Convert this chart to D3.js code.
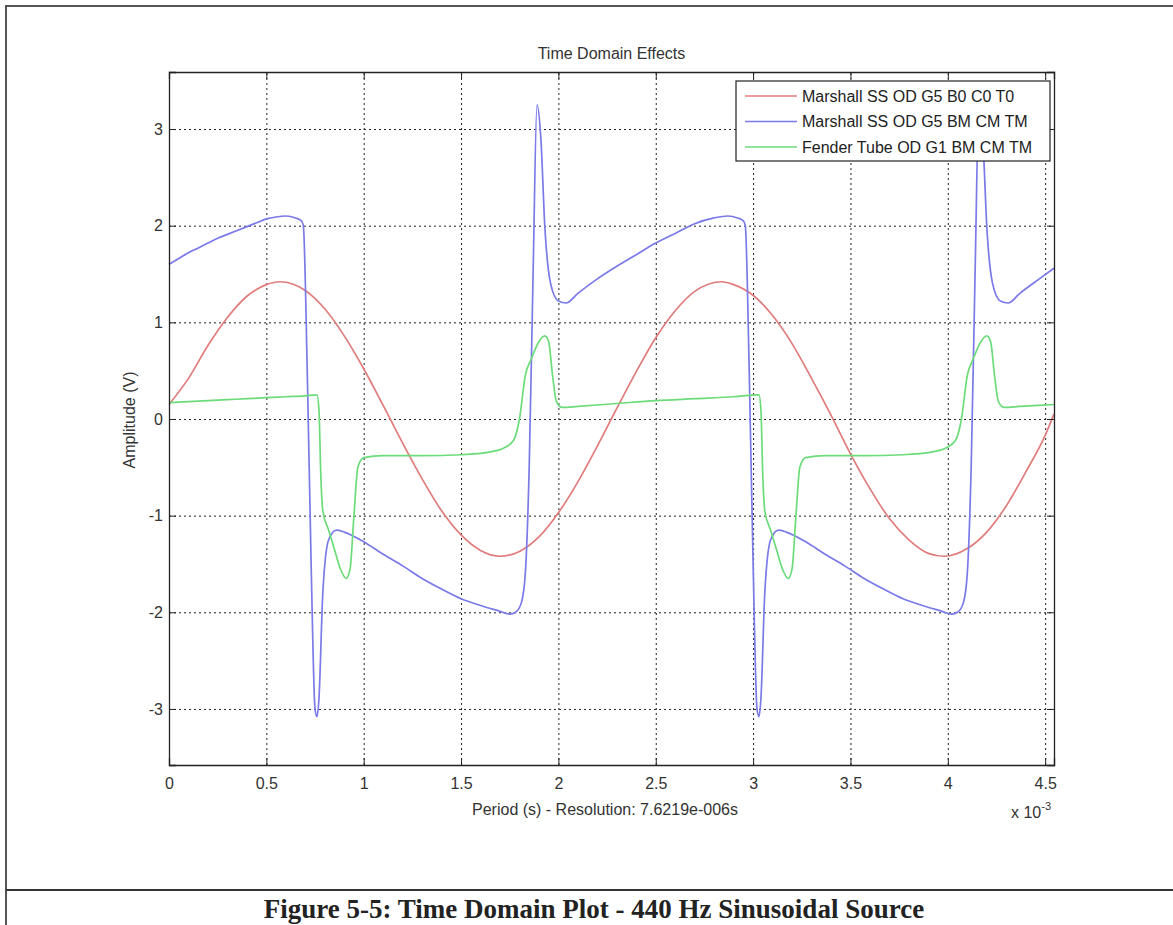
<!DOCTYPE html>
<html>
<head>
<meta charset="utf-8">
<script src="https://cdn.jsdelivr.net/npm/d3@7"></script>
<style>
  body { margin: 0; background: #fff; }
  svg { display: block; font-family: "Liberation Sans", Arial, sans-serif; }
</style>
</head>
<body>
<svg id="chart" width="1173" height="925"></svg>
<script>
// time in ms (axis shows x 10^-3 s)
const redT = [0,0.1,0.2,0.3,0.4,0.5,0.57,0.7,0.8,0.9,1.0,1.1,1.2,1.3,1.4,1.5,1.6,1.7,1.8,1.9,2.0,2.1,2.2,2.3,2.4,2.5,2.6,2.7,2.84,2.9,3.0,3.1,3.2,3.3,3.4,3.5,3.6,3.7,3.8,3.9,3.98,4.1,4.2,4.3,4.4,4.5,4.545];
const redV = [0.15,0.42,0.76,1.05,1.27,1.39,1.42,1.33,1.14,0.86,0.52,0.14,-0.25,-0.62,-0.95,-1.2,-1.36,-1.42,-1.37,-1.22,-0.97,-0.65,-0.28,0.11,0.49,0.84,1.12,1.32,1.42,1.39,1.28,1.07,0.78,0.42,0.04,-0.36,-0.72,-1.03,-1.25,-1.39,-1.42,-1.34,-1.17,-0.9,-0.55,-0.17,0.05];

const blueT = [0,0.05,0.1,0.15,0.2,0.25,0.3,0.35,0.4,0.45,0.5,0.55,0.6,0.65,0.68,0.69,0.71,0.73,0.75,0.76,0.77,0.79,0.82,0.86,0.9,1.0,1.1,1.2,1.3,1.4,1.5,1.6,1.7,1.75,1.78,1.81,1.83,1.85,1.87,1.89,1.91,1.93,1.96,2.0,2.04,2.1,2.2,2.3,2.4,2.5,2.6,2.7,2.8,2.87,2.92,2.95,2.96,2.98,3.0,3.02,3.03,3.04,3.06,3.09,3.13,3.17,3.27,3.37,3.47,3.57,3.67,3.77,3.87,3.97,4.02,4.05,4.08,4.1,4.12,4.14,4.16,4.18,4.2,4.23,4.27,4.31,4.37,4.47,4.545];
const blueV = [1.6,1.66,1.72,1.77,1.82,1.87,1.91,1.95,1.99,2.03,2.07,2.09,2.1,2.08,2.05,2.0,0.5,-1.5,-3.0,-3.08,-2.9,-1.8,-1.25,-1.15,-1.17,-1.27,-1.4,-1.52,-1.65,-1.76,-1.86,-1.93,-1.99,-2.02,-2.0,-1.9,-1.6,-0.5,1.5,3.25,2.9,2.0,1.4,1.22,1.2,1.3,1.45,1.58,1.7,1.82,1.92,2.02,2.08,2.1,2.08,2.05,2.0,0.5,-1.5,-3.0,-3.08,-2.9,-1.8,-1.25,-1.15,-1.17,-1.27,-1.4,-1.52,-1.65,-1.76,-1.86,-1.93,-1.99,-2.02,-2.0,-1.9,-1.6,-0.5,1.5,3.25,2.9,2.0,1.4,1.22,1.2,1.3,1.45,1.56];

const greenT = [0,0.1,0.2,0.3,0.4,0.5,0.6,0.7,0.76,0.77,0.78,0.79,0.82,0.85,0.88,0.91,0.93,0.95,0.97,1.0,1.1,1.3,1.5,1.65,1.72,1.77,1.8,1.83,1.86,1.9,1.93,1.95,1.97,1.99,2.02,2.1,2.3,2.5,2.7,2.9,3.03,3.04,3.05,3.06,3.09,3.12,3.15,3.18,3.2,3.22,3.24,3.27,3.37,3.57,3.77,3.92,3.99,4.04,4.07,4.1,4.13,4.17,4.2,4.22,4.24,4.26,4.29,4.37,4.545];
const greenV = [0.17,0.18,0.19,0.2,0.21,0.22,0.23,0.24,0.25,0.1,-0.6,-0.95,-1.15,-1.35,-1.55,-1.65,-1.55,-1.0,-0.5,-0.4,-0.38,-0.38,-0.37,-0.34,-0.3,-0.22,0.0,0.45,0.62,0.8,0.86,0.8,0.45,0.18,0.12,0.13,0.16,0.19,0.21,0.23,0.25,0.1,-0.6,-0.95,-1.15,-1.35,-1.55,-1.65,-1.55,-1.0,-0.5,-0.4,-0.38,-0.38,-0.37,-0.34,-0.3,-0.22,0.0,0.45,0.62,0.8,0.86,0.8,0.45,0.18,0.12,0.13,0.15];

const seriesNames = ['Marshall SS OD G5 B0 C0 T0', 'Marshall SS OD G5 BM CM TM', 'Fender Tube OD G1 BM CM TM'];
const seriesColors = ['#e07c7c', '#7a7ae8', '#6cdc7a'];
const xTicks = [0,0.5,1,1.5,2,2.5,3,3.5,4,4.5];
const yTicks = [-3,-2,-1,0,1,2,3];

const svg = d3.select('#chart');
const pL = 169, pR = 1054, pT = 72, pB = 765;
const w = pR - pL, h = pB - pT;

const x = d3.scaleLinear().domain([0, 4.5454]).range([pL, pR]);
const y = d3.scaleLinear().domain([-3.58, 3.59]).range([pB, pT]);

// page frame
svg.append('path').attr('d', 'M6,925 V6 H1173').attr('fill', 'none').attr('stroke', '#555').attr('stroke-width', 2);
svg.append('line').attr('x1', 6).attr('x2', 1173).attr('y1', 890).attr('y2', 890).attr('stroke', '#333').attr('stroke-width', 2);

// grid
const grid = svg.append('g').attr('class', 'grid');
grid.append('g').attr('transform', 'translate(0,' + pB + ')')
	.call(d3.axisBottom(x).tickValues(xTicks).tickSize(-h).tickFormat(''));
grid.append('g').attr('transform', 'translate(' + pL + ',0)')
	.call(d3.axisLeft(y).tickValues(yTicks).tickSize(-w).tickFormat(''));
grid.selectAll('.domain').remove();
grid.selectAll('line').attr('stroke', '#222').attr('stroke-dasharray', '2,3');

// curves
const mk = (ts, vs) => ts.map((t, i) => [t, vs[i]]);
const curves = [mk(redT, redV), mk(blueT, blueV), mk(greenT, greenV)];
const lineGen = d3.line().x(d => x(d[0])).y(d => y(d[1])).curve(d3.curveMonotoneX);
svg.append('g').selectAll('path')
	.data(curves)
	.enter()
	.append('path')
	.attr('d', lineGen)
	.attr('fill', 'none')
	.attr('stroke', (d, i) => seriesColors[i])
	.attr('stroke-width', 1.7);

// axes, ticks inside on all four sides
const fmt = d => String(d);
const ax = svg.append('g').attr('class', 'axes');
ax.append('g').attr('transform', 'translate(0,' + pB + ')')
	.call(d3.axisBottom(x).tickValues(xTicks).tickSize(-7).tickPadding(13).tickFormat(fmt));
ax.append('g').attr('transform', 'translate(0,' + pT + ')')
	.call(d3.axisTop(x).tickValues(xTicks).tickSize(-7).tickFormat(''));
ax.append('g').attr('transform', 'translate(' + pL + ',0)')
	.call(d3.axisLeft(y).tickValues(yTicks).tickSize(-7).tickPadding(6).tickFormat(fmt));
ax.append('g').attr('transform', 'translate(' + pR + ',0)')
	.call(d3.axisRight(y).tickValues(yTicks).tickSize(-7).tickFormat(''));
ax.selectAll('.domain').attr('stroke', '#222').attr('stroke-width', 1.3);
ax.selectAll('line').attr('stroke', '#222');
ax.selectAll('text').attr('font-size', 16).attr('fill', '#333').attr('font-family', '"Liberation Sans", Arial, sans-serif');

// labels
svg.append('text').attr('x', (pL + pR) / 2).attr('y', 59).attr('text-anchor', 'middle')
	.attr('font-size', 16).attr('fill', '#333').text('Time Domain Effects');
svg.append('text').attr('x', 605).attr('y', 815).attr('text-anchor', 'middle')
	.attr('font-size', 16).attr('fill', '#333').text('Period (s) - Resolution: 7.6219e-006s');
svg.append('text').attr('transform', 'translate(135,420) rotate(-90)').attr('text-anchor', 'middle')
	.attr('font-size', 16).attr('fill', '#333').text('Amplitude (V)');
const exp = svg.append('text').attr('x', 1011).attr('y', 818).attr('font-size', 16).attr('fill', '#333');
exp.append('tspan').text('x 10');
exp.append('tspan').attr('dy', -8).attr('font-size', 11).text('-3');

// legend
const lg = svg.append('g').attr('transform', 'translate(736,81)');
lg.append('rect').attr('width', 314).attr('height', 80).attr('fill', '#fff').attr('stroke', '#222').attr('stroke-width', 1.2);
const rows = lg.selectAll('.row').data(seriesNames).enter().append('g')
	.attr('class', 'row').attr('transform', (d, i) => 'translate(0,' + (15 + i * 25.5) + ')');
rows.append('line').attr('x1', 9).attr('x2', 61).attr('stroke', (d, i) => seriesColors[i]).attr('stroke-width', 1.6);
rows.append('text').attr('x', 66).attr('dy', '0.35em').attr('font-size', 16).attr('fill', '#222').text(d => d);

// caption
svg.append('text').attr('x', 594).attr('y', 918).attr('text-anchor', 'middle')
	.attr('font-family', '"Liberation Serif", "Times New Roman", serif').attr('font-weight', 'bold')
	.attr('font-size', 27).attr('fill', '#222').text('Figure 5-5: Time Domain Plot - 440 Hz Sinusoidal Source');
</script>
</body>
</html>
